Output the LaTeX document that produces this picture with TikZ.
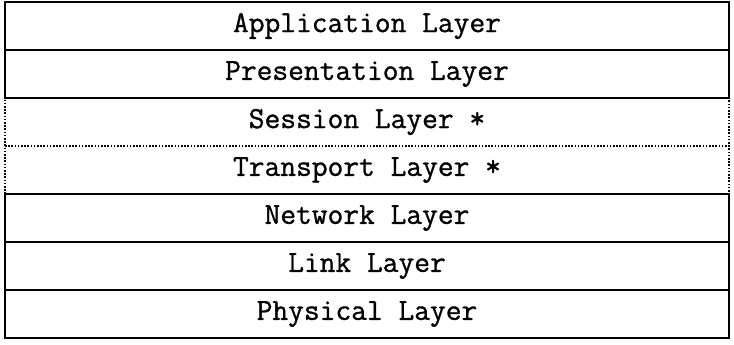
\documentclass[tikz,border=0pt]{standalone}
\usepackage{fontspec}
\newfontfamily\layerfont[FakeBold=1]{Latin Modern Mono}
\begin{document}
\begin{tikzpicture}[
  layer/.style={draw, line width=1.3pt, minimum width=362pt, minimum height=24pt,
    inner sep=0pt, font=\layerfont\fontsize{15.3}{17}\selectfont},
  dotlayer/.style={layer, line width=1pt, dash pattern=on 0.8pt off 0.8pt}]
  \useasboundingbox (0pt,0pt) rectangle (367pt,-172pt);

  %% the two layers with dotted borders go first
  \node[dotlayer] (sess)  at (183.5pt, -61pt) {Session Layer *};
  \node[dotlayer] (trans) at (183.5pt, -85pt) {Transport Layer *};

  \node[layer] (app)  at (183.5pt, -13pt) {Application Layer};
  \node[layer] (pres) at (183.5pt, -37pt) {Presentation Layer};
  \node[layer] (net)  at (183.5pt,-109pt) {Network Layer};
  \node[layer] (link) at (183.5pt,-133pt) {Link Layer};
  \node[layer] (phys) at (183.5pt,-157pt) {Physical Layer};

\end{tikzpicture}
\end{document}
